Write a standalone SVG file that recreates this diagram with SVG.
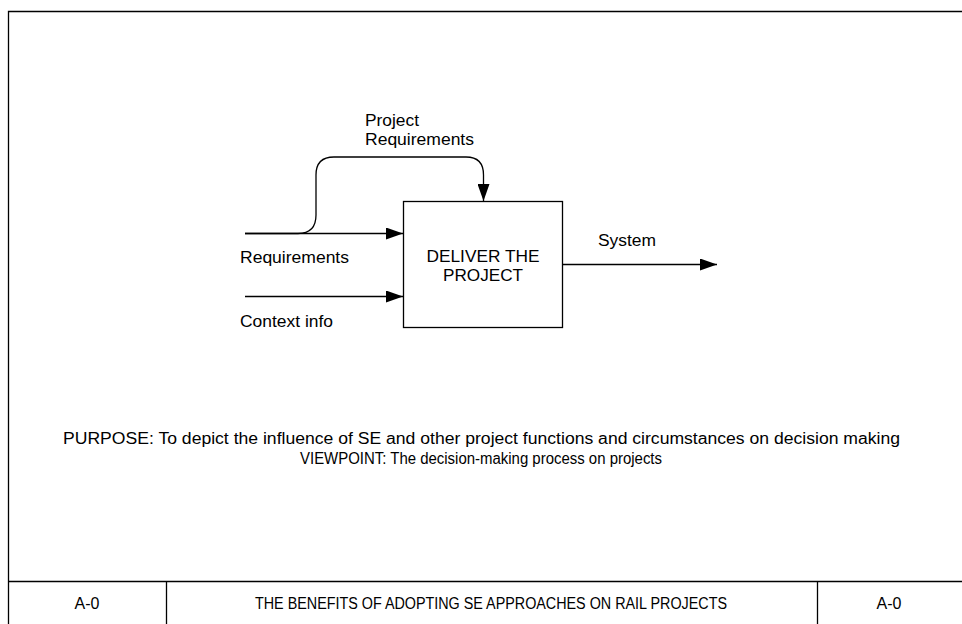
<svg xmlns="http://www.w3.org/2000/svg" width="962" height="624" viewBox="0 0 962 624">
  <style>
    text { font-family: "Liberation Sans", Arial, sans-serif; font-size: 16px; fill: #000; }
    .mid { text-anchor: middle; }
    .line { fill: none; stroke: #000; stroke-width: 1.3; }
    .frame { fill: none; stroke: #000; stroke-width: 1.3; }
  </style>
  <defs>
    <marker id="arrow" viewBox="0 0 17 12" refX="17" refY="6" markerWidth="17" markerHeight="12" markerUnits="userSpaceOnUse" orient="auto">
      <path d="M0,0 L17,6 L0,12 Z" fill="#000"/>
    </marker>
  </defs>
  <rect x="0" y="0" width="962" height="624" fill="#fff"/>

  <!-- sheet frame -->
  <g id="frame">
    <path class="frame" d="M8.5,624 V11.5 H962"/>
    <path class="frame" d="M8.5,581.5 H962 M166.5,581.5 V624 M817.5,581.5 V624"/>
  </g>

  <!-- activity box -->
  <g id="deliver">
    <rect x="403.5" y="201.5" width="159" height="126" fill="#fff" stroke="#000" stroke-width="1.3"/>
    <text class="mid" x="483" y="262" textLength="113" lengthAdjust="spacingAndGlyphs">DELIVER THE</text>
    <text class="mid" x="483" y="281" textLength="80" lengthAdjust="spacingAndGlyphs">PROJECT</text>
  </g>

  <!-- connectors -->
  <g id="connectors">
    <path class="line" d="M245,233.5 H403" marker-end="url(#arrow)"/>
    <path class="line" d="M245,233.5 H298 Q316,233.5 316,215 V175 Q316,157 334,157 H466 Q483.5,157 483.5,175 V201" marker-end="url(#arrow)"/>
    <path class="line" d="M245,296.5 H403" marker-end="url(#arrow)"/>
    <path class="line" d="M562.5,264.5 H717" marker-end="url(#arrow)"/>
  </g>

  <!-- labels -->
  <g id="labels">
    <text x="365" y="126" textLength="54" lengthAdjust="spacingAndGlyphs">Project</text>
    <text x="365" y="145" textLength="109" lengthAdjust="spacingAndGlyphs">Requirements</text>
    <text x="240" y="263" textLength="109" lengthAdjust="spacingAndGlyphs">Requirements</text>
    <text x="240" y="327" textLength="93" lengthAdjust="spacingAndGlyphs">Context info</text>
    <text x="598" y="246" textLength="58" lengthAdjust="spacingAndGlyphs">System</text>
  </g>

  <g id="notes">
    <text x="63" y="444" textLength="837" lengthAdjust="spacingAndGlyphs">PURPOSE: To depict the influence of SE and other project functions and circumstances on decision making</text>
    <text x="300" y="464" textLength="362" lengthAdjust="spacingAndGlyphs">VIEWPOINT: The decision-making process on projects</text>
  </g>

  <g id="title-block">
    <text class="mid" x="87" y="609">A-0</text>
    <text x="255" y="609" textLength="472" lengthAdjust="spacingAndGlyphs">THE BENEFITS OF ADOPTING SE APPROACHES ON RAIL PROJECTS</text>
    <text class="mid" x="889" y="609">A-0</text>
  </g>
</svg>
